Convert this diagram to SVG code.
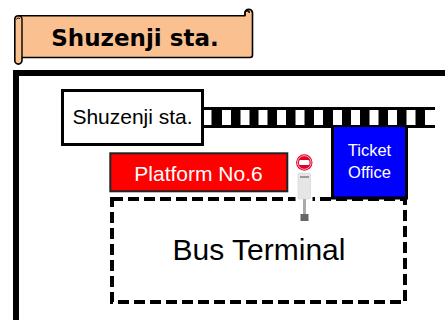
<svg xmlns="http://www.w3.org/2000/svg" width="445" height="320" viewBox="0 0 445 320">
<style>
text{font-family:"Liberation Sans",Arial,sans-serif;text-anchor:middle}
.b{font-family:"DejaVu Sans",sans-serif;font-weight:700}
.o{stroke:#000;fill:none}
.w{fill:#fff}
</style>
<rect width="445" height="320" fill="#fff"/>
<g id="banner">
<path d="M14.800 19a3.600 3.600 0 0 1 3.600-3.300H245V12.500a3.800 3.800 0 0 1 7.500 0V55a2.500 2.500 0 0 1-2.500 2.500H22V60.500a3.600 3.600 0 0 1-7.200 0Z" fill="#fac090" stroke="#000" stroke-width="1.600" stroke-linejoin="round"/>
<path d="M22 57.500V19a3.600 3.600 0 0 0-3.600-3.300" fill="none" stroke="#000" stroke-width="1.400"/>
<path d="M245 15.700V13a2.200 2.200 0 0 1 4.400 0" fill="none" stroke="#000" stroke-width="1.400"/>
<path d="M16.500 19.500a1.900 1.900 0 0 1 3.500-.5" fill="none" stroke="#000" stroke-width="1"/>
<text x="135" y="46" font-size="23" class="b">Shuzenji sta.</text>
</g>
<g id="walls"><path d="M445 73H16V320" class="o" stroke-width="6"/></g>
<g id="track">
<rect x="203" y="107" width="232" height="21" fill="#000"/>
<g class="w">
<rect x="203.500" y="110" width="8" height="15"/><rect x="222" y="110" width="9" height="15"/><rect x="240.500" y="110" width="9" height="15"/><rect x="258.500" y="110" width="9" height="15"/><rect x="277" y="110" width="9" height="15"/><rect x="295.500" y="110" width="9" height="15"/><rect x="314" y="110" width="9" height="15"/><rect x="333" y="110" width="9" height="15"/><rect x="351" y="110" width="9" height="15"/><rect x="369.500" y="110" width="9" height="15"/><rect x="388" y="110" width="9" height="15"/><rect x="406.500" y="110" width="9" height="15"/><rect x="425" y="110" width="10" height="15"/>
</g>
</g>
<g id="station"><rect x="62.500" y="90.500" width="140" height="54" fill="#fff" stroke="#000" stroke-width="3"/><text x="132.500" y="124" font-size="21">Shuzenji sta.</text></g>
<g id="platform"><rect x="110.300" y="153.300" width="177" height="38" fill="#f00" stroke="#222" stroke-width="2"/><text x="198.500" y="181" font-size="21" fill="#fff">Platform No.6</text></g>
<g id="terminal"><rect x="112" y="199" width="293" height="103" fill="none" stroke="#000" stroke-width="4" stroke-dasharray="11 5"/><text x="259" y="260" font-size="30">Bus Terminal</text></g>
<g id="office"><path d="M332.500 127V198H406.500V127" fill="#00f" stroke="#000" stroke-width="3"/><text x="369.500" y="156" font-size="16.500" fill="#fff">Ticket</text><text x="369.500" y="178" font-size="16.500" fill="#fff">Office</text></g>
<g id="stop">
<rect x="295.500" y="196" width="17" height="5" fill="#fff"/>
<rect x="303" y="198" width="3" height="18" fill="#aaa"/><rect x="300.500" y="214" width="8" height="7" fill="#666"/>
<rect x="298" y="173" width="12.500" height="26" rx="1.500" fill="#e6e6e6" stroke="#ccc" stroke-width=".5"/><rect x="300" y="176" width="9" height="2" fill="#999"/>
<circle cx="304.300" cy="162.500" r="8.200" fill="#e2002a"/><circle cx="304.300" cy="162.500" r="6.800" fill="none" stroke="#fff" stroke-width=".7"/><rect x="299" y="160" width="10.500" height="5" rx="1.500" fill="#fff"/>
</g>
</svg>
